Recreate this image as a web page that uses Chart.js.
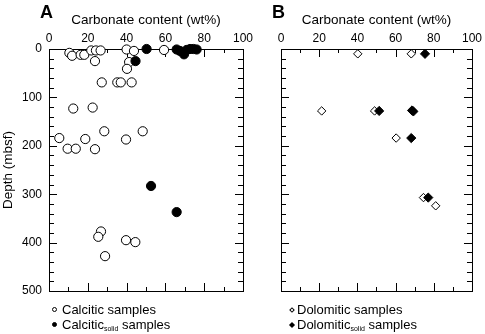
<!DOCTYPE html>
<html>
<head>
<meta charset="utf-8">
<script src="https://cdn.jsdelivr.net/npm/chart.js@4.4.1/dist/chart.umd.min.js"></script>
<style>
  html, body { margin: 0; padding: 0; background: #fff; }
  body { width: 485px; height: 334px; position: relative; overflow: hidden;
         font-family: 'Liberation Sans', Arial, Helvetica, sans-serif; color: #000; }
  canvas { position: absolute; top: 0; }
  #chartA { left: 0; }
  #chartB { left: 262px; }
  .panel-tag { position: absolute; font-weight: bold; font-size: 18px; line-height: 18px; }
  .legend { position: absolute; font-size: 13px; line-height: 15px; }
  .legend .row { position: relative; white-space: nowrap; }
  .legend sub { font-size: 7px; vertical-align: -2px; line-height: 0; }
  .mk { position: absolute; top: 5px; box-sizing: border-box; border: 1px solid #000; background: #fff; }
  .mk.circ { width: 5px; height: 5px; border-radius: 50%; }
  .mk.diam { width: 4px; height: 4px; transform: rotate(45deg); top: 5.5px; }
  .mk.fill { background: #000; }
</style>
</head>
<body>
<canvas id="chartA" width="262" height="334"></canvas>
<canvas id="chartB" width="223" height="334"></canvas>

<div class="panel-tag" style="left:40px; top:3px">A</div>
<div class="panel-tag" style="left:272px; top:3px">B</div>

<div class="legend" style="left:52px; top:302px">
  <div class="row" style="padding-left:10px"><span class="mk circ" style="left:0"></span>Calcitic samples</div>
  <div class="row" style="padding-left:10px"><span class="mk circ fill" style="left:0"></span>Calcitic<sub>solid</sub> samples</div>
</div>
<div class="legend" style="left:290px; top:302px">
  <div class="row" style="padding-left:7px"><span class="mk diam" style="left:0"></span>Dolomitic samples</div>
  <div class="row" style="padding-left:7px"><span class="mk diam fill" style="left:0"></span>Dolomitic<sub>solid</sub> samples</div>
</div>

<script>
// carbonate content (wt%) vs depth (mbsf)
const calciticWt = [10.5, 11.9, 16.3, 18.2, 21.8, 24.2, 26.6, 23.7, 40.0, 43.8, 59.3, 41.3, 40.2,
  27.2, 35.2, 37.0, 42.6, 12.5, 22.5, 28.5, 48.3, 5.3, 18.7, 39.7, 9.6, 13.8, 23.7,
  26.8, 25.4, 39.7, 44.5, 28.9];
const calciticDepth = [8, 14, 12, 12, 3, 3, 3, 25, 1, 4, 2, 27, 41,
  69, 69, 69, 69, 123, 121, 170, 170, 184, 186, 187, 206, 206, 207,
  377, 388, 395, 399, 428];

const calciticSolidWt = [50.3, 44.6, 65.8, 67.5, 69.6, 71.0, 72.7, 74.4, 76.1, 52.6, 65.8];
const calciticSolidDepth = [0, 25, 1, 4, 11, 2, 0, 0, 1, 283, 337];

const dolomiticWt = [40.2, 68.2, 21.3, 49.0, 60.3, 74.6, 81.0];
const dolomiticDepth = [10, 10, 128, 128, 184, 307, 324];

const dolomiticSolidWt = [75.4, 51.4, 68.6, 69.3, 68.2, 77.1];
const dolomiticSolidDepth = [10, 128, 127, 129, 184, 307];

const wtRange = [0, 100];
const depthRange = [0, 500];
const wtLabelStep = 20, wtMinorStep = 10;
const depthLabelStep = 100, depthMinorStep = 20;

const FONT = "'Liberation Sans', Arial, Helvetica, sans-serif";

function pairs(xs, ys) {
  return xs.map((x, i) => ({ x, y: ys[i] }));
}

// box around the plot with inward ticks on all four sides
const frameTicks = {
  id: 'frameTicks',
  beforeDatasetsDraw(chart) {
    const { ctx, chartArea: a, scales: { x, y } } = chart;
    ctx.save();
    ctx.strokeStyle = '#000';
    ctx.lineWidth = 1;
    ctx.strokeRect(a.left + 0.5, a.top + 0.5, a.right - a.left, a.bottom - a.top);
    ctx.beginPath();
    for (let v = wtRange[0]; v <= wtRange[1]; v += wtMinorStep) {
      const px = Math.round(x.getPixelForValue(v)) + 0.5;
      const len = v % wtLabelStep === 0 ? 8 : 4;
      ctx.moveTo(px, a.top); ctx.lineTo(px, a.top + len);
      ctx.moveTo(px, a.bottom); ctx.lineTo(px, a.bottom - len);
    }
    for (let d = depthRange[0]; d <= depthRange[1]; d += depthMinorStep) {
      const py = Math.round(y.getPixelForValue(d)) + 0.5;
      const len = d % depthLabelStep === 0 ? 8 : 5;
      ctx.moveTo(a.left, py); ctx.lineTo(a.left + len, py);
      ctx.moveTo(a.right, py); ctx.lineTo(a.right - len, py);
    }
    ctx.stroke();
    ctx.restore();
  }
};

function panelOptions(leftWidth, rightPad, showDepthAxis) {
  return {
    animation: false,
    responsive: false,
    events: [],
    layout: { padding: { top: 0, left: 0, right: rightPad, bottom: 43 } },
    plugins: { legend: { display: false }, tooltip: { enabled: false } },
    scales: {
      x: {
        type: 'linear', position: 'top',
        min: wtRange[0], max: wtRange[1],
        grid: { display: false, drawTicks: false },
        border: { display: false },
        ticks: { stepSize: wtLabelStep, padding: 3, color: '#000', font: { family: FONT, size: 12 } },
        title: { display: true, text: 'Carbonate content (wt%)', color: '#000',
                 font: { family: FONT, size: 13.5 }, padding: { top: 12, bottom: 0 } },
        afterFit(scale) { scale.height = 49; }
      },
      y: {
        type: 'linear', position: 'left', reverse: true,
        min: depthRange[0], max: depthRange[1],
        grid: { display: false, drawTicks: false },
        border: { display: false },
        ticks: { display: showDepthAxis, stepSize: depthLabelStep, padding: 7, color: '#000',
                 font: { family: FONT, size: 12 } },
        title: { display: showDepthAxis, text: 'Depth (mbsf)', color: '#000',
                 font: { family: FONT, size: 13.5 }, padding: { top: 0, bottom: 0 } },
        afterFit(scale) { scale.width = leftWidth; }
      }
    }
  };
}

new Chart(document.getElementById('chartA'), {
  type: 'scatter',
  data: {
    datasets: [
      { label: 'Calcitic samples', data: pairs(calciticWt, calciticDepth),
        pointStyle: 'circle', pointRadius: 4.6, backgroundColor: '#fff', borderColor: '#000',
        borderWidth: 1, clip: false, order: 2 },
      { label: 'Calcitic solid samples', data: pairs(calciticSolidWt, calciticSolidDepth),
        pointStyle: 'circle', pointRadius: 4.6, backgroundColor: '#000', borderColor: '#000',
        borderWidth: 1, clip: false, order: 1 }
    ]
  },
  options: panelOptions(49, 19, true),
  plugins: [frameTicks]
});

new Chart(document.getElementById('chartB'), {
  type: 'scatter',
  data: {
    datasets: [
      { label: 'Dolomitic samples', data: pairs(dolomiticWt, dolomiticDepth),
        pointStyle: 'rectRot', pointRadius: 4.2, backgroundColor: '#fff', borderColor: '#000',
        borderWidth: 1, clip: false, order: 2 },
      { label: 'Dolomitic solid samples', data: pairs(dolomiticSolidWt, dolomiticSolidDepth),
        pointStyle: 'rectRot', pointRadius: 4.6, backgroundColor: '#000', borderColor: '#000',
        borderWidth: 1, clip: false, order: 1 }
    ]
  },
  options: panelOptions(19, 10, false),
  plugins: [frameTicks]
});
</script>
</body>
</html>
